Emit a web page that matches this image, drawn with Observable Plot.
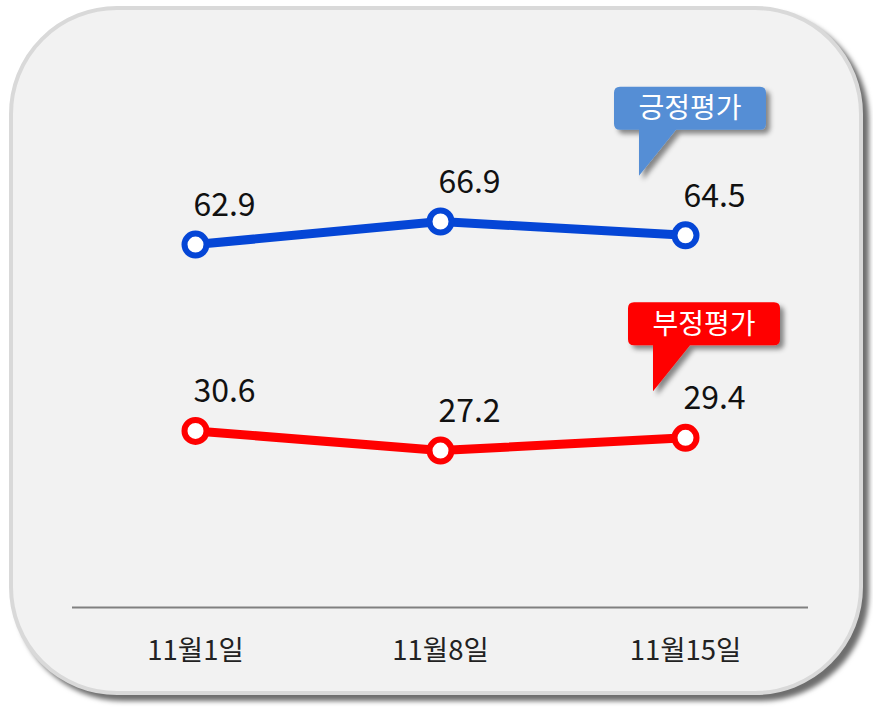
<!DOCTYPE html>
<html>
<head>
<meta charset="utf-8">
<script src="https://cdn.jsdelivr.net/npm/d3@7"></script>
<script src="https://cdn.jsdelivr.net/npm/@observablehq/plot@0.6"></script>
<style>
  html, body { margin: 0; padding: 0; background: #ffffff; }
  #wrap { position: relative; width: 873px; height: 709px; overflow: hidden; }
  #box {
    position: absolute; left: 9px; top: 6px; width: 846px; height: 681px;
    border: 4px solid #d9d9d9; border-radius: 108px; background: #f2f2f2;
    box-shadow: 6px 6px 5px #6e6e6e;
  }
  #chart { position: absolute; left: 0; top: 0; }
</style>
</head>
<body>
<div id="wrap"><div id="box"></div><div id="chart"></div></div>
<script>
// ---- data ----
const dates = ["11월1일", "11월8일", "11월15일"];
const positive = [62.9, 66.9, 64.5];
const negative = [30.6, 27.2, 29.4];
const seriesNames = ["긍정평가", "부정평가"];
const seriesColors = ["#0546d6", "#ff0000"];
const calloutFill = ["#558ed5", "#ff0000"];

const rows = [];
dates.forEach((d, i) => rows.push({date: d, value: positive[i], series: seriesNames[0]}));
dates.forEach((d, i) => rows.push({date: d, value: negative[i], series: seriesNames[1]}));

const font = "'Noto Sans CJK KR', 'Noto Sans', sans-serif";

const plot = Plot.plot({
  width: 873,
  height: 709,
  marginLeft: 72,
  marginRight: 65,
  marginTop: 30,
  marginBottom: 102,
  style: {background: "transparent", fontFamily: font, color: "#222"},
  x: {type: "point", domain: dates, padding: 0.5, label: null},
  y: {domain: [0, 100], axis: null},
  color: {domain: seriesNames, range: seriesColors},
  marks: [
    Plot.axisX({tickSize: 0, tickPadding: 33, fontSize: 27.5, label: null, fill: "#222"}),
    Plot.ruleY([0], {stroke: "#808080", strokeWidth: 2}),
    Plot.line(rows, {x: "date", y: "value", z: "series", stroke: "series", strokeWidth: 9}),
    Plot.dot(rows, {x: "date", y: "value", stroke: "series", fill: "white", r: 11, strokeWidth: 6}),
    Plot.text(rows, {x: "date", y: "value", text: d => d.value.toFixed(1), dx: 29, dy: -39, fontSize: 32, fill: "#111"})
  ]
});
document.getElementById("chart").appendChild(plot);

// ---- callouts, anchored to the last point of each series ----
function scaleFn(name) {
  const s = plot.scale(name);
  if (s && typeof s.apply === "function") return v => s.apply(v);
  if (s.type === "point") {
    return d3.scalePoint().domain(s.domain).range(s.range).padding(s.padding ?? 0.5).align(s.align ?? 0.5);
  }
  return d3.scaleLinear().domain(s.domain).range(s.range);
}
const sx = scaleFn("x"), sy = scaleFn("y");
const svg = d3.select(plot);
const defs = svg.append("defs");
const f = defs.append("filter").attr("id", "shadow").attr("x", "-20%").attr("y", "-20%").attr("width", "150%").attr("height", "150%");
f.append("feDropShadow").attr("dx", 4).attr("dy", 4).attr("stdDeviation", 2.5).attr("flood-color", "#000").attr("flood-opacity", 0.45);

const lastIdx = dates.length - 1;
const tipOffsets = [[-46, -59], [-32, -46]];
seriesNames.forEach((name, k) => {
  const vals = k === 0 ? positive : negative;
  const px = sx(dates[lastIdx]), py = sy(vals[lastIdx]);
  const tx = px + tipOffsets[k][0], ty = py + tipOffsets[k][1];
  const left = tx - 25, right = tx + 127, top = ty - 89, bottom = ty - 46, rr = 6;
  const tailR = tx + 37;
  const path = [
    `M${left + rr},${top}`, `H${right - rr}`, `Q${right},${top} ${right},${top + rr}`,
    `V${bottom - rr}`, `Q${right},${bottom} ${right - rr},${bottom}`,
    `H${tailR}`, `L${tx},${ty}`, `V${bottom}`, `H${left + rr}`,
    `Q${left},${bottom} ${left},${bottom - rr}`, `V${top + rr}`, `Q${left},${top} ${left + rr},${top}`, "Z"
  ].join(" ");
  const g = svg.append("g");
  g.append("path").attr("d", path).attr("fill", calloutFill[k]).attr("filter", "url(#shadow)");
  g.append("text")
    .attr("x", (left + right) / 2).attr("y", (top + bottom) / 2)
    .attr("text-anchor", "middle").attr("dy", "0.36em")
    .attr("font-family", font).attr("font-size", 28).attr("fill", "#ffffff")
    .text(name);
});
</script>
</body>
</html>
